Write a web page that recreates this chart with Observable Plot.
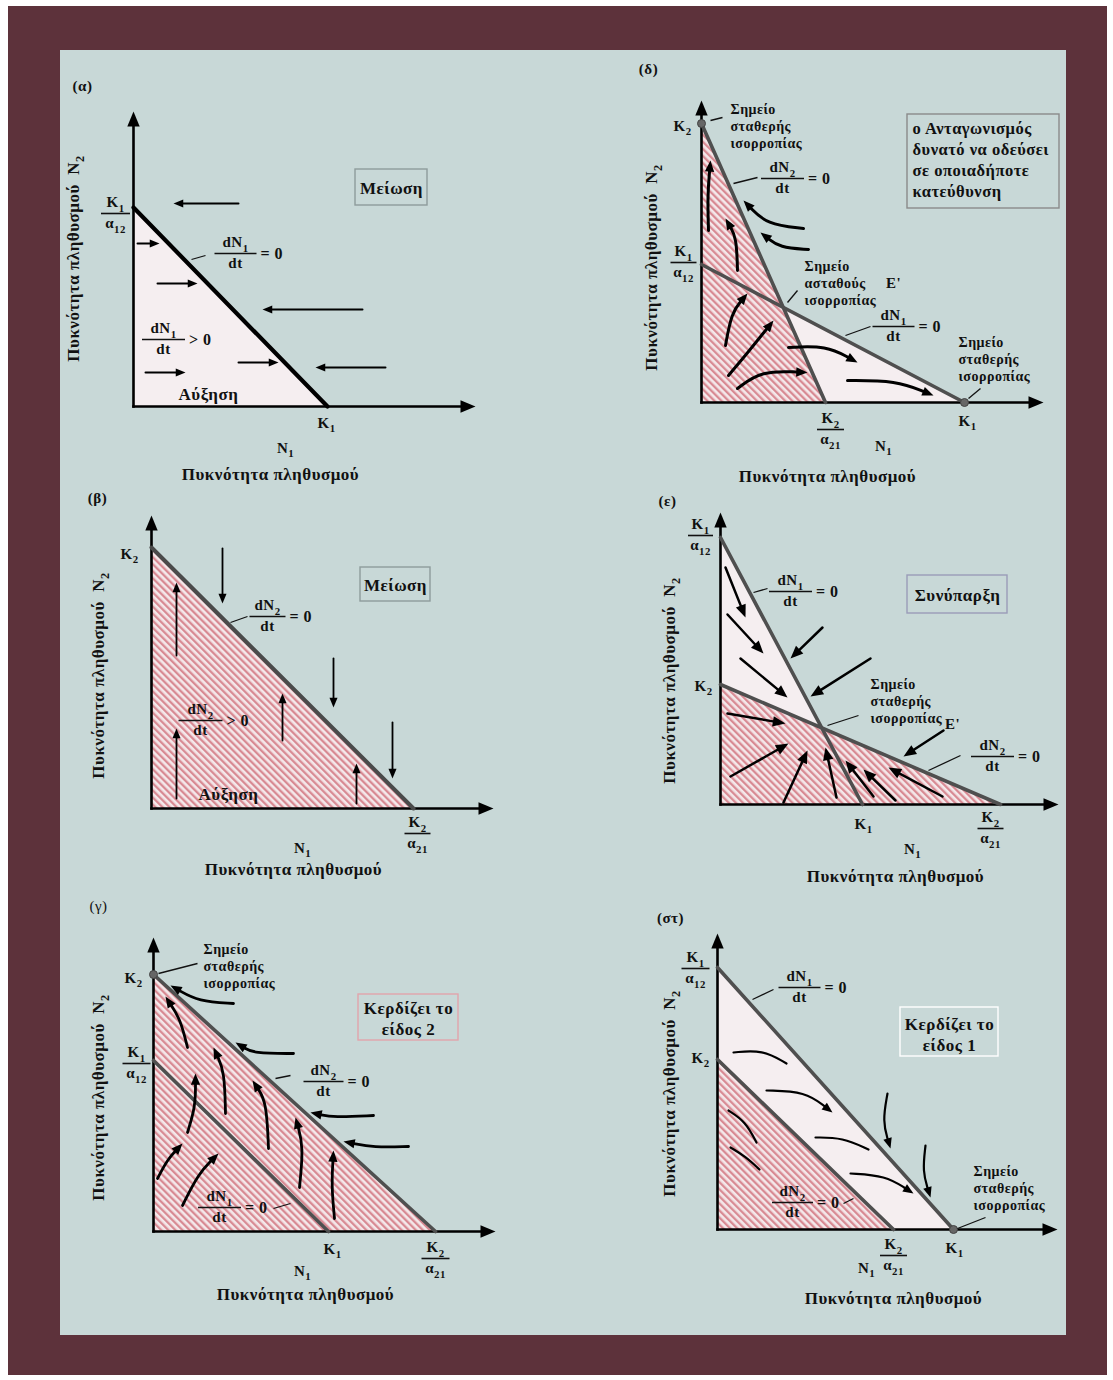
<!DOCTYPE html>
<html><head><meta charset="utf-8">
<script src="https://cdn.jsdelivr.net/npm/d3@7"></script>
<script src="https://cdn.jsdelivr.net/npm/@observablehq/plot@0.6"></script>
<style>
html,body{margin:0;padding:0;background:#fff;}
#page{position:relative;width:1113px;height:1380px;background:#fff;overflow:hidden;}
#frame{position:absolute;left:8px;top:6px;width:1099px;height:1369px;background:#5d323b;}
#inner{position:absolute;left:60px;top:50px;width:1006px;height:1285px;background:#c8d8d7;}
.panel{position:absolute;overflow:visible;}
.panel text{letter-spacing:0.5px;}
</style></head><body>
<svg width="0" height="0" style="position:absolute">
<defs>
<pattern id="hatch" patternUnits="userSpaceOnUse" width="5" height="5" patternTransform="rotate(-45)">
<rect width="5" height="5" fill="#f4e8ea"/><rect width="2.3" height="5" fill="#d88a93"/>
</pattern></defs></svg>
<div id="page"><div id="frame"></div><div id="inner"></div></div>
<script>
const FONT = "'Liberation Serif','Times New Roman',serif";

// ================= DATA (population-density units, origin = (0,0)) =================
// (α) species 1 alone
const alphaAxes = {xLen:342, yLen:295};
const alphaIsoN1 = [{x:0,y:199},{x:194,y:0}];
const alphaArrows = [
  {p:[[105,203],[40,203]]},{p:[[229,97],[129,97]]},{p:[[252,39],[182,39]]},
  {p:[[4,163],[26,163]]},{p:[[24,123],[64,123]]},{p:[[105,44],[145,44]]},{p:[[12,34],[52,34]]}
];
// (β) species 2 alone
const betaAxes = {xLen:342, yLen:293};
const betaIsoN2 = [{x:0,y:261},{x:262,y:0}];
const betaArrows = [
  {p:[[71,260],[71,205]]},{p:[[182,150],[182,101]]},{p:[[241,86],[241,30]]},
  {p:[[25,153],[25,226]]},{p:[[25,10],[25,80]]},{p:[[131,68],[131,115]]},{p:[[205,5],[205,45]]}
];
// (γ) species 2 wins
const gammaAxes = {xLen:342, yLen:294};
const gammaIsoN2 = [{x:0,y:257},{x:282,y:0}];
const gammaIsoN1 = [{x:0,y:171},{x:175,y:0}];
const gammaEquilibria = [{x:0,y:257}];
const gammaTrajectories = [
  {p:[[80,228],[45,230],[17,246]]},{p:[[34,184],[27,212],[12,235]]},{p:[[72,118],[71,160],[60,184]]},
  {p:[[34,99],[42,125],[42,158]]},{p:[[4,53],[14,72],[29,88]]},{p:[[29,26],[45,58],[65,78]]},
  {p:[[115,83],[113,130],[99,151]]},{p:[[146,44],[150,85],[142,114]]},{p:[[181,13],[178,45],[180,81]]},
  {p:[[140,178],[100,178],[82,189]]},{p:[[220,116],[180,114],[157,119]]},{p:[[255,85],[220,84],[190,90]]}
];
// (δ) unstable equilibrium
const deltaAxes = {xLen:342, yLen:302};
const deltaIsoN2 = [{x:0,y:279},{x:124,y:0}];
const deltaIsoN1 = [{x:0,y:138},{x:263,y:0}];
const deltaEquilibria = [{x:0,y:279},{x:263,y:0}];
const deltaTrajectories = [
  {p:[[7,172],[6,207],[9,242]]},{p:[[36,132],[35,165],[24,184]]},{p:[[24,57],[30,90],[46,109]]},
  {p:[[27,27],[48,52],[72,82]]},{p:[[36,14],[60,32],[106,30]]},{p:[[87,55],[125,57],[156,40]]},
  {p:[[146,22],[195,22],[232,7]]},{p:[[102,174],[65,178],[42,202]]},{p:[[107,153],[78,155],[59,170]]}
];
// (ε) coexistence
const epsAxes = {xLen:338, yLen:292};
const epsIsoN1 = [{x:0,y:267},{x:142,y:0}];
const epsIsoN2 = [{x:0,y:120},{x:280,y:0}];
const epsArrows = [
  {p:[[5,237],[25,187]]},{p:[[7,190],[43,151]]},{p:[[20,146],[67,107]]},{p:[[102,177],[70,146]]},
  {p:[[150,146],[90,108]]},{p:[[7,91],[65,81]]},{p:[[10,28],[68,61]]},{p:[[63,2],[87,54]]},
  {p:[[116,7],[105,57]]},{p:[[153,8],[125,44]]},{p:[[175,4],[143,35]]},{p:[[222,8],[168,37]]},
  {p:[[223,74],[183,48]]}
];
// (στ) species 1 wins
const staAxes = {xLen:340, yLen:296};
const staIsoN1 = [{x:0,y:262},{x:236,y:0}];
const staIsoN2 = [{x:0,y:170},{x:176,y:0}];
const staEquilibria = [{x:236,y:0}];
const staTrajectories = [
  {p:[[16,177],[45,180],[69,166]],head:false},{p:[[49,139],[88,138],[115,117]]},
  {p:[[98,92],[125,92],[151,80]],head:false},{p:[[133,56],[168,54],[196,36]]},
  {p:[[170,136],[165,108],[173,81]]},{p:[[208,84],[205,58],[213,32]]},
  {p:[[11,119],[28,108],[39,87]],head:false},{p:[[13,82],[28,73],[42,60]],head:false}
];

// ---- text annotations ----
const XLAB = "Πυκνότητα πληθυσμού", YLAB = "Πυκνότητα πληθυσμού  N₂";
const EQ3 = "Σημείο\nσταθερής\nισορροπίας";

const alphaText = {
  tag:[{x:-51,y:321,t:"(α)"}],
  big:[{x:137,y:-67,t:XLAB},{x:75,y:13,t:"Αύξηση"},{x:258,y:219,t:"Μείωση"}],
  k:[{x:193,y:-16,t:"K₁"},{x:152,y:-41,t:"N₁"}],
  ylab:[{x:-61,y:148,t:YLAB}],
  fracs:[{x:-18,y:193,num:"K₁",den:"α₁₂",w:29},{x:102,y:153,num:"dN₁",den:"dt",w:42,tail:"= 0"},
         {x:30,y:67,num:"dN₁",den:"dt",w:43,tail:"> 0"}],
  leaders:[{x1:58,y1:147,x2:72,y2:151}],
  boxes:[{x1:222,x2:294,y1:201,y2:237}]
};
const betaText = {
  tag:[{x:-54,y:311,t:"(β)"}],
  big:[{x:142,y:-60,t:XLAB},{x:77,y:15,t:"Αύξηση"},{x:244,y:224,t:"Μείωση"}],
  k:[{x:-22,y:255,t:"K₂"},{x:151,y:-39,t:"N₁"}],
  ylab:[{x:-54,y:133,t:YLAB}],
  fracs:[{x:266,y:-25,num:"K₂",den:"α₂₁",w:26},{x:116,y:192,num:"dN₂",den:"dt",w:36,tail:"= 0"},
         {x:49,y:88,num:"dN₂",den:"dt",w:44,tail:"> 0"}],
  leaders:[{x1:79,y1:186,x2:96,y2:192}],
  boxes:[{x1:209,x2:279,y1:207,y2:241}]
};
const gammaText = {
  tag:[{x:-55,y:326,t:"(γ)"}],
  big:[{x:152,y:-62,t:XLAB},{x:255,y:214,t:"Κερδίζει το\nείδος 2"}],
  k:[{x:-20,y:254,t:"K₂"},{x:179,y:-17,t:"K₁"},{x:149,y:-39,t:"N₁"}],
  ylab:[{x:-56,y:134,t:YLAB}],
  small:[{x:50,y:266,t:EQ3}],
  fracs:[{x:-17,y:168,num:"K₁",den:"α₁₂",w:28},{x:282,y:-27,num:"K₂",den:"α₂₁",w:28},
         {x:170,y:150,num:"dN₂",den:"dt",w:40,tail:"= 0"},{x:66,y:24,num:"dN₁",den:"dt",w:43,tail:"= 0"}],
  leaders:[{x1:5,y1:258,x2:44,y2:268},{x1:122,y1:153,x2:137,y2:156},{x1:120,y1:23,x2:137,y2:28}],
  boxes:[{x1:205,x2:305,y1:191,y2:237}]
};
const deltaText = {
  tag:[{x:-53,y:334,t:"(δ)"}],
  big:[{x:126,y:-73,t:XLAB}],
  k:[{x:-19,y:277,t:"K₂"},{x:266,y:-18,t:"K₁"},{x:182,y:-43,t:"N₁"},{x:192,y:120,t:"E'"}],
  ylab:[{x:-51,y:135,t:YLAB}],
  small:[{x:29,y:277,t:EQ3},{x:103,y:120,t:"Σημείο\nασταθούς\nισορροπίας"},{x:257,y:44,t:EQ3}],
  boxText:[{x:211,y:244,t:"ο Ανταγωνισμός\nδυνατό να οδεύσει\nσε οποιαδήποτε\nκατεύθυνση"}],
  fracs:[{x:-18,y:140,num:"K₁",den:"α₁₂",w:26},{x:129,y:-27,num:"K₂",den:"α₂₁",w:27},
         {x:81,y:224,num:"dN₂",den:"dt",w:43,tail:"= 0"},{x:192,y:76,num:"dN₁",den:"dt",w:42,tail:"= 0"}],
  leaders:[{x1:9,y1:282,x2:21,y2:285},{x1:32,y1:219,x2:56,y2:225},{x1:86,y1:100,x2:96,y2:112},
           {x1:144,y1:67,x2:169,y2:76},{x1:267,y1:4,x2:279,y2:14}],
  boxes:[{x1:206,x2:358,y1:194,y2:288}]
};
const epsText = {
  tag:[{x:-53,y:304,t:"(ε)"}],
  big:[{x:175,y:-71,t:XLAB},{x:237,y:210,t:"Συνύπαρξη"}],
  k:[{x:-17,y:119,t:"K₂"},{x:143,y:-19,t:"K₁"},{x:192,y:-44,t:"N₁"},{x:232,y:81,t:"E'"}],
  ylab:[{x:-52,y:124,t:YLAB}],
  small:[{x:150,y:104,t:EQ3}],
  fracs:[{x:-20,y:269,num:"K₁",den:"α₁₂",w:25},{x:270,y:-24,num:"K₂",den:"α₂₁",w:26},
         {x:70,y:213,num:"dN₁",den:"dt",w:43,tail:"= 0"},{x:272,y:48,num:"dN₂",den:"dt",w:43,tail:"= 0"}],
  leaders:[{x1:33,y1:212,x2:47,y2:216},{x1:107,y1:79,x2:138,y2:89},{x1:208,y1:34,x2:240,y2:49}],
  boxes:[{x1:187,x2:287,y1:191,y2:229}]
};
const staText = {
  tag:[{x:-47,y:312,t:"(στ)"}],
  big:[{x:176,y:-68,t:XLAB},{x:232,y:196,t:"Κερδίζει το\nείδος 1"}],
  k:[{x:-17,y:172,t:"K₂"},{x:237,y:-18,t:"K₁"},{x:149,y:-38,t:"N₁"}],
  ylab:[{x:-49,y:136,t:YLAB}],
  small:[{x:256,y:42,t:EQ3}],
  fracs:[{x:-22,y:261,num:"K₁",den:"α₁₂",w:28},{x:176,y:-26,num:"K₂",den:"α₂₁",w:27},
         {x:82,y:242,num:"dN₁",den:"dt",w:42,tail:"= 0"},{x:75,y:27,num:"dN₂",den:"dt",w:41,tail:"= 0"}],
  leaders:[{x1:35,y1:230,x2:56,y2:240},{x1:126,y1:26,x2:136,y2:31},{x1:240,y1:1,x2:268,y2:12}],
  boxes:[{x1:183,x2:281,y1:173,y2:222}]
};

// ================= LAYOUT =================
const frames = {
  alpha:{left:60,top:50,w:500,h:430,ox:133,oy:406},
  delta:{left:560,top:50,w:506,h:430,ox:701,oy:402},
  beta:{left:60,top:480,w:500,h:410,ox:151,oy:808},
  eps:{left:560,top:480,w:506,h:410,ox:720,oy:804},
  gamma:{left:60,top:890,w:500,h:445,ox:153,oy:1231},
  sta:{left:560,top:890,w:506,h:445,ox:717,oy:1229}
};

// ================= HELPERS =================
const headSym = {draw(ctx, size){const r=Math.sqrt(size/Math.PI);
  ctx.moveTo(0,0); ctx.lineTo(0.62*r,1.5*r); ctx.lineTo(-0.62*r,1.5*r); ctx.closePath();}};
const rot = (dx,dy) => Math.atan2(dx,dy)*180/Math.PI;

function arrowMarks(list, o={}) {
  const r = o.r ?? 7, L = 1.5*r, stroke = o.stroke ?? "#000";
  const pts = [], heads = [];
  list.forEach((a,i) => {
    const p = a.p.map(q => q.slice()), n = p.length;
    const [ex,ey] = p[n-1], [px,py] = p[n-2];
    const dx = ex-px, dy = ey-py, len = Math.hypot(dx,dy);
    if (a.head !== false) {
      heads.push({x:ex, y:ey, rot:rot(dx,dy)});
      p[n-1] = [ex - dx/len*L*0.75, ey - dy/len*L*0.75];
    }
    p.forEach(q => pts.push({x:q[0], y:q[1], id:i}));
  });
  return [
    Plot.line(pts, {x:"x", y:"y", z:"id", stroke, strokeWidth:o.width ?? 2, curve:o.curve ?? "linear", strokeLinecap:"round"}),
    Plot.dot(heads, {x:"x", y:"y", rotate:"rot", symbol:headSym, r, fill:stroke, stroke:"none"})
  ];
}
function axesMarks(ax) {
  return [
    Plot.link([{x1:0,y1:0,x2:ax.xLen-8,y2:0},{x1:0,y1:0,x2:0,y2:ax.yLen-8}],
      {x1:"x1",y1:"y1",x2:"x2",y2:"y2",stroke:"#000",strokeWidth:2.6,strokeLinecap:"square"}),
    Plot.dot([{x:ax.xLen,y:0,rot:90},{x:0,y:ax.yLen,rot:0}],
      {x:"x",y:"y",rotate:"rot",symbol:headSym,r:10,fill:"#000",stroke:"none"})
  ];
}
function txt(data, o={}) {
  return Plot.text(data, {x:"x", y:"y", text:"t", fontFamily:FONT, fontWeight:o.weight ?? "bold",
    fontSize:o.size ?? 15, textAnchor:o.anchor ?? "middle", lineAnchor:"middle", lineHeight:o.lh ?? 1.2,
    rotate:o.rotate ?? 0, fill:"#111"});
}
function fracMarks(list) {
  const base = {fontFamily:FONT, fontWeight:"bold", fontSize:15, fill:"#111", lineAnchor:"middle"};
  return [
    Plot.text(list, {...base, x:"x", y:"y", text:"num", dy:-11}),
    Plot.text(list, {...base, x:"x", y:"y", text:"den", dy:10}),
    Plot.link(list, {x1:d=>d.x-d.w/2, x2:d=>d.x+d.w/2, y1:"y", y2:"y", stroke:"#111", strokeWidth:1.6}),
    Plot.text(list.filter(d=>d.tail), {...base, fontSize:16, x:d=>d.x+d.w/2, y:"y", text:"tail", dx:4, textAnchor:"start"})
  ];
}
function annotationMarks(T, boxStroke) {
  return [
    Plot.rect(T.boxes, {x1:"x1",x2:"x2",y1:"y1",y2:"y2",fill:"none",stroke:boxStroke,strokeWidth:1.4}),
    Plot.link(T.leaders || [], {x1:"x1",y1:"y1",x2:"x2",y2:"y2",stroke:"#111",strokeWidth:1.3}),
    ...fracMarks(T.fracs),
    txt(T.tag, {size:15, weight: T === gammaText ? "normal" : "bold"}),
    txt(T.big, {size:17, lh:1.25}),
    txt(T.k, {size:15}),
    txt(T.ylab, {size:17, rotate:-90}),
    txt(T.small || [], {size:14, anchor:"start", lh:1.2}),
    txt(T.boxText || [], {size:16.5, anchor:"start", lh:1.27})
  ];
}
const area = (d, fill) => Plot.areaY(d, {x:"x", y:"y", fill});
const iso = (d, stroke, w) => Plot.line(d, {x:"x", y:"y", stroke, strokeWidth:w});
const eqDots = d => Plot.dot(d, {x:"x", y:"y", r:4, fill:"#666", stroke:"#444", strokeWidth:1});

const PINK = "#f5eef0", HATCH = "url(#hatch)", GREY = "#4f4f4f";

// Unicode subscript digits -> real lowered tspans (larger, like the original typesetting)
const SUB = "₀₁₂₃₄₅₆₇₈₉";
function fixSubscripts(svg) {
  svg.querySelectorAll("text").forEach(t => {
    if (t.childNodes.length !== 1 || t.firstChild.nodeType !== 3) return;
    const chars = [...t.textContent];
    if (!chars.some(c => SUB.includes(c))) return;
    const fs = parseFloat(getComputedStyle(t).fontSize) || 15;
    const shift = Math.round(fs * 0.28 * 10) / 10;
    const runs = [];
    chars.forEach(c => {
      const s = SUB.includes(c);
      const ch = s ? String(SUB.indexOf(c)) : c;
      if (runs.length && runs[runs.length-1].s === s) runs[runs.length-1].t += ch;
      else runs.push({s, t:ch});
    });
    t.textContent = "";
    let lowered = false;
    runs.forEach(r => {
      const ts = document.createElementNS("http://www.w3.org/2000/svg", "tspan");
      ts.textContent = r.t;
      if (r.s) { ts.setAttribute("font-size", (fs*0.72).toFixed(1)); ts.setAttribute("dy", shift); lowered = true; }
      else if (lowered) { ts.setAttribute("dy", -shift); lowered = false; }
      t.appendChild(ts);
    });
  });
}

function draw(f, marks) {
  const svg = Plot.plot({
    width:f.w, height:f.h, margin:0,
    style:{background:"transparent", overflow:"visible"},
    x:{domain:[0,100], range:[f.ox-f.left, f.ox-f.left+100], axis:null},
    y:{domain:[0,100], range:[f.oy-f.top, f.oy-f.top-100], axis:null},
    marks
  });
  svg.classList.add("panel");
  svg.style.left = f.left + "px"; svg.style.top = f.top + "px";
  svg.style.width = f.w + "px"; svg.style.height = f.h + "px"; svg.style.maxWidth = "none";
  document.getElementById("page").appendChild(svg);
  fixSubscripts(svg);
}

// ================= PANELS =================
draw(frames.alpha, [
  area(alphaIsoN1, PINK), ...axesMarks(alphaAxes), iso(alphaIsoN1, "#000", 4.2),
  ...arrowMarks(alphaArrows, {width:2, r:6.5}), ...annotationMarks(alphaText, "#8e9c9c")
]);
draw(frames.beta, [
  area(betaIsoN2, HATCH), ...axesMarks(betaAxes), iso(betaIsoN2, "#4a4a4a", 4),
  ...arrowMarks(betaArrows, {width:1.8, r:6.5}), ...annotationMarks(betaText, "#8e9c9c")
]);
draw(frames.gamma, [
  area(gammaIsoN2, HATCH), ...axesMarks(gammaAxes), iso(gammaIsoN2, GREY, 3.6), iso(gammaIsoN1, GREY, 3.6),
  eqDots(gammaEquilibria), ...arrowMarks(gammaTrajectories, {width:2.8, r:7.5, curve:"basis"}),
  ...annotationMarks(gammaText, "#e2a4ac")
]);
draw(frames.delta, [
  area(deltaIsoN1, PINK), area(deltaIsoN2, HATCH), ...axesMarks(deltaAxes),
  iso(deltaIsoN2, GREY, 3.6), iso(deltaIsoN1, GREY, 3.6), eqDots(deltaEquilibria),
  ...arrowMarks(deltaTrajectories, {width:3, r:7.5, curve:"basis"}), ...annotationMarks(deltaText, "#8a8a8a")
]);
draw(frames.eps, [
  area(epsIsoN1, PINK), area(epsIsoN2, HATCH), ...axesMarks(epsAxes),
  iso(epsIsoN1, GREY, 3.6), iso(epsIsoN2, GREY, 3.6),
  ...arrowMarks(epsArrows, {width:2.5, r:8.5}), ...annotationMarks(epsText, "#9a9cb8")
]);
draw(frames.sta, [
  area(staIsoN1, PINK), area(staIsoN2, HATCH), ...axesMarks(staAxes),
  iso(staIsoN1, GREY, 3.6), iso(staIsoN2, GREY, 3.6), eqDots(staEquilibria),
  ...arrowMarks(staTrajectories, {width:2.2, r:7, curve:"basis"}), ...annotationMarks(staText, "#ffffff")
]);
</script></body></html>
